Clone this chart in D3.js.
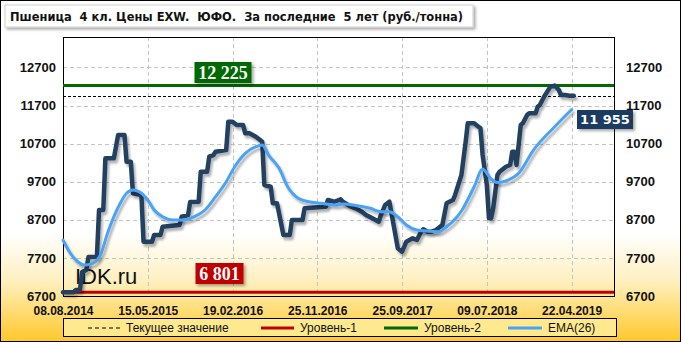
<!DOCTYPE html>
<html>
<head>
<meta charset="utf-8">
<script src="https://cdn.jsdelivr.net/npm/d3@7"></script>
<style>
  body { margin: 0; padding: 0; background: #fff; }
  svg { display: block; }
</style>
</head>
<body>
<svg id="chart" width="681" height="342"></svg>
<script>
// chart data (index = weekly point on the category axis)
var xLabels = ['08.08.2014', '15.05.2015', '19.02.2016', '25.11.2016', '25.09.2017', '09.07.2018', '22.04.2019'];
var yTicks = [6700, 7700, 8700, 9700, 10700, 11700, 12700];

var priceIdx = [0, 5, 6, 8, 9, 11, 12, 16, 17, 19, 20, 24, 26, 29, 30, 32, 33, 37, 38, 42, 43, 46, 47, 55, 56, 59,
  60, 64, 65, 68, 69, 71, 72, 77, 78, 80, 82, 85, 86, 88, 91, 93, 94, 95, 98, 99, 101, 104, 107, 108, 113, 114,
  124, 125, 128, 131, 132, 136, 138, 141, 143, 146, 149, 150, 152, 154, 155, 157, 158, 160, 162, 165, 167, 169,
  170, 172, 174, 176, 179, 181, 184, 185, 187, 188, 190, 191, 194, 195, 197, 198, 200, 201, 202, 203, 205, 206,
  209, 211, 212, 213, 214, 216, 217, 219, 220, 223, 224, 225, 227, 228, 230, 232, 234, 235, 237, 239, 241];
var price = [6801, 6801, 6857, 6857, 7330, 7383, 7724, 7732, 8958, 8958, 10315, 10315, 10926, 10926, 10225, 10225,
  9396, 9351, 8125, 8125, 8301, 8301, 8519, 8564, 8782, 8826, 9168, 9175, 9963, 9963, 10357, 10401, 10488, 10533,
  11275, 11275, 11189, 11189, 10971, 10971, 10882, 10795, 10750, 9614, 9569, 9133, 9133, 8301, 8301, 8695, 8695,
  9002, 9044, 9220, 9175, 9238, 9175, 9044, 9002, 8913, 8826, 8740, 8650, 8826, 9089, 9175, 8871, 8257, 7952,
  7863, 8125, 8215, 8170, 8388, 8451, 8388, 8388, 8433, 8564, 9133, 9220, 9351, 9700, 9876, 10750, 11233, 11233,
  11189, 11102, 10401, 9614, 8740, 8740, 9002, 9876, 9963, 10094, 10139, 10488, 10488, 10139, 11189, 11233,
  11451, 11496, 11496, 11669, 11714, 11932, 12021, 12194, 12225, 12108, 11976, 11976, 11960, 11955];

var emaIdx = [0, 3, 7, 10, 14, 18, 21, 24, 27, 30, 33, 36, 40, 43, 47, 52, 57, 62, 67, 72, 77, 81, 86, 91, 94, 97,
  102, 106, 111, 116, 122, 129, 132, 139, 145, 150, 154, 158, 162, 167, 172, 177, 181, 186, 188, 194, 198, 202,
  205, 210, 215, 222, 232, 240];
var ema = [8170, 7863, 7600, 7514, 7558, 7821, 8346, 8782, 9133, 9396, 9483, 9438, 9220, 8958, 8782, 8695, 8695,
  8782, 8958, 9307, 9700, 10094, 10446, 10619, 10664, 10401, 10052, 9569, 9265, 9175, 9133, 9089, 9115, 9070,
  9002, 8913, 8913, 8782, 8564, 8433, 8406, 8388, 8519, 8782, 8931, 9569, 10026, 9771, 9679, 9745, 9921, 10533,
  11144, 11596];

var level1 = 6801;
var level2 = 12225;
var current = 11955;

var legendNames = ['Текущее значение', 'Уровень-1', 'Уровень-2', 'EMA(26)'];

var fmt = function(v) { return d3.format(',')(v).replace(',', ' '); };

var svg = d3.select('#chart');
var defs = svg.append('defs');

var grad = defs.append('linearGradient')
    .attr('id', 'bg').attr('x1', 0).attr('y1', 0).attr('x2', 0).attr('y2', 1);
grad.append('stop').attr('offset', '0.68').attr('stop-color', '#ffffff');
grad.append('stop').attr('offset', '0.82').attr('stop-color', '#fff0c0');
grad.append('stop').attr('offset', '1').attr('stop-color', '#ffc828');

var shadow = defs.append('filter').attr('id', 'shadow')
    .attr('x', '-10%').attr('y', '-10%').attr('width', '130%').attr('height', '150%');
shadow.append('feDropShadow').attr('dx', 2).attr('dy', 2).attr('stdDeviation', 1.5)
    .attr('flood-color', '#000').attr('flood-opacity', 0.35);

var lineShadow = defs.append('filter').attr('id', 'lshadow')
    .attr('x', '-5%').attr('y', '-5%').attr('width', '110%').attr('height', '115%');
lineShadow.append('feDropShadow').attr('dx', 2).attr('dy', 3).attr('stdDeviation', 1.2)
    .attr('flood-color', '#000').attr('flood-opacity', 0.3);

// background + frame
svg.append('rect').attr('x', 0).attr('y', 0).attr('width', 681).attr('height', 342).attr('fill', 'url(#bg)');
svg.append('rect').attr('x', 0.5).attr('y', 0.5).attr('width', 680).attr('height', 341)
    .attr('fill', 'none').attr('stroke', '#000');

// title
svg.append('rect').attr('x', 5).attr('y', 5).attr('width', 468).attr('height', 22)
    .attr('fill', '#fff').attr('stroke', '#d0d0d0').attr('filter', 'url(#shadow)');
svg.append('text').attr('x', 10).attr('y', 21)
    .style('white-space', 'pre')
    .attr('font-family', 'DejaVu Sans, Verdana, sans-serif').attr('font-weight', 'bold').attr('font-size', 12.5)
    .attr('textLength', 453).attr('lengthAdjust', 'spacingAndGlyphs')
    .attr('fill', '#111')
    .text('Пшеница  4 кл. Цены EXW.  ЮФО.  За последние  5 лет (руб./тонна)');

var pLeft = 63, pRight = 614, pTop = 37, pBottom = 296;
var x = d3.scaleLinear().domain([0, 260]).range([pLeft, pRight]);
var y = d3.scaleLinear().domain([6700, 13500]).range([pBottom, pTop]);

var tickIdx = xLabels.map(function(d, i) { return i * 40; });

// grid
svg.append('g').selectAll('line').data(yTicks).enter().append('line')
    .attr('x1', pLeft).attr('x2', pRight)
    .attr('y1', function(d) { return Math.round(y(d)) + 0.5; }).attr('y2', function(d) { return Math.round(y(d)) + 0.5; })
    .attr('stroke', '#c4c4c4').attr('stroke-dasharray', '4,3');
svg.append('g').selectAll('line').data(tickIdx).enter().append('line')
    .attr('x1', function(d) { return Math.round(x(d)) + 0.5; }).attr('x2', function(d) { return Math.round(x(d)) + 0.5; })
    .attr('y1', pTop).attr('y2', pBottom)
    .attr('stroke', '#c4c4c4').attr('stroke-dasharray', '4,3');

// plot border
svg.append('rect').attr('x', pLeft + 0.5).attr('y', pTop + 0.5).attr('width', pRight - pLeft).attr('height', pBottom - pTop)
    .attr('fill', 'none').attr('stroke', '#000');

// axes (text only)
var axisFont = 'Liberation Sans, Arial, sans-serif';
var yLeft = d3.axisLeft(y).tickValues(yTicks).tickSize(0).tickPadding(7).tickFormat(d3.format('d'));
var yRight = d3.axisRight(y).tickValues(yTicks).tickSize(0).tickPadding(12).tickFormat(d3.format('d'));
var xAxis = d3.axisBottom(x).tickValues(tickIdx).tickSize(0).tickPadding(10)
    .tickFormat(function(d, i) { return xLabels[i]; });

var gl = svg.append('g').attr('transform', 'translate(' + pLeft + ',0)').call(yLeft);
var gr = svg.append('g').attr('transform', 'translate(' + pRight + ',0)').call(yRight);
var gx = svg.append('g').attr('transform', 'translate(0,' + pBottom + ')').call(xAxis);
[gl, gr, gx].forEach(function(g) {
  g.select('.domain').remove();
  g.selectAll('text').attr('font-family', axisFont).attr('font-weight', 'bold')
      .attr('font-size', 13).attr('fill', '#111');
});
gx.selectAll('text').attr('font-size', 12);

// watermark
svg.append('text').attr('x', 75).attr('y', 284)
    .attr('font-family', 'Liberation Sans, Arial, sans-serif').attr('font-size', 22).attr('fill', '#111')
    .text('IDK.ru');

// level lines
svg.append('line').attr('x1', pLeft).attr('x2', pRight).attr('y1', y(level1)).attr('y2', y(level1))
    .attr('stroke', '#c00000').attr('stroke-width', 3);
svg.append('line').attr('x1', pLeft).attr('x2', pRight).attr('y1', y(level2)).attr('y2', y(level2))
    .attr('stroke', '#006a00').attr('stroke-width', 3);
svg.append('line').attr('x1', pLeft).attr('x2', pRight).attr('y1', Math.round(y(current)) + 0.5).attr('y2', Math.round(y(current)) + 0.5)
    .attr('stroke', '#000').attr('stroke-width', 1).attr('stroke-dasharray', '3,2');

// series
var priceLine = d3.line()
    .x(function(d) { return x(d[0]); })
    .y(function(d) { return y(d[1]); });
var emaLine = d3.line()
    .x(function(d) { return x(d[0]); })
    .y(function(d) { return y(d[1]); })
    .curve(d3.curveMonotoneX);

svg.append('path').datum(d3.zip(priceIdx, price))
    .attr('d', priceLine).attr('fill', 'none').attr('stroke', '#243f60').attr('stroke-width', 4.5)
    .attr('stroke-linejoin', 'round').attr('stroke-linecap', 'round').attr('filter', 'url(#lshadow)');
svg.append('path').datum(d3.zip(emaIdx, ema))
    .attr('d', emaLine).attr('fill', 'none').attr('stroke', '#4aa3f7').attr('stroke-width', 3)
    .attr('stroke-linecap', 'round').attr('filter', 'url(#lshadow)');

// value labels
function badge(cx, cy, w, h, fill, txt, font, size) {
  svg.append('rect').attr('x', cx - w / 2).attr('y', cy - h / 2).attr('width', w).attr('height', h)
      .attr('fill', fill).attr('filter', 'url(#shadow)');
  svg.append('text').attr('x', cx).attr('y', cy).attr('dy', '0.36em').attr('text-anchor', 'middle')
      .attr('font-family', font).attr('font-weight', 'bold').attr('font-size', size).attr('fill', '#fff')
      .text(txt);
}
badge(223, 72.5, 57, 21, '#006a00', fmt(level2), 'Liberation Serif, Times New Roman, serif', 18);
badge(219.5, 273.5, 48, 21, '#c00000', fmt(level1), 'Liberation Serif, Times New Roman, serif', 18);
badge(605, 119.5, 56, 19, '#1f3a60', fmt(current), 'DejaVu Sans, Verdana, sans-serif', 13);

// legend
var lg = svg.append('g');
lg.append('rect').attr('x', 63.5).attr('y', 318.5).attr('width', 553).attr('height', 18)
    .attr('fill', '#ffe98f').attr('stroke', '#000');
var legendX = [88, 261, 384, 508];
var legendW = [32, 33, 34, 34];
var legendStroke = ['#000', '#c00000', '#006a00', '#4aa3f7'];
legendNames.forEach(function(name, i) {
  lg.append('line').attr('x1', legendX[i]).attr('x2', legendX[i] + legendW[i]).attr('y1', 328).attr('y2', 328)
      .attr('stroke', legendStroke[i]).attr('stroke-width', i === 0 ? 1 : 3)
      .attr('stroke-dasharray', i === 0 ? '4,3' : null);
  lg.append('text').attr('x', legendX[i] + legendW[i] + 6).attr('y', 332)
      .attr('font-family', 'Liberation Sans, Arial, sans-serif').attr('font-size', 12).attr('fill', '#111')
      .text(name);
});
</script>
</body>
</html>
